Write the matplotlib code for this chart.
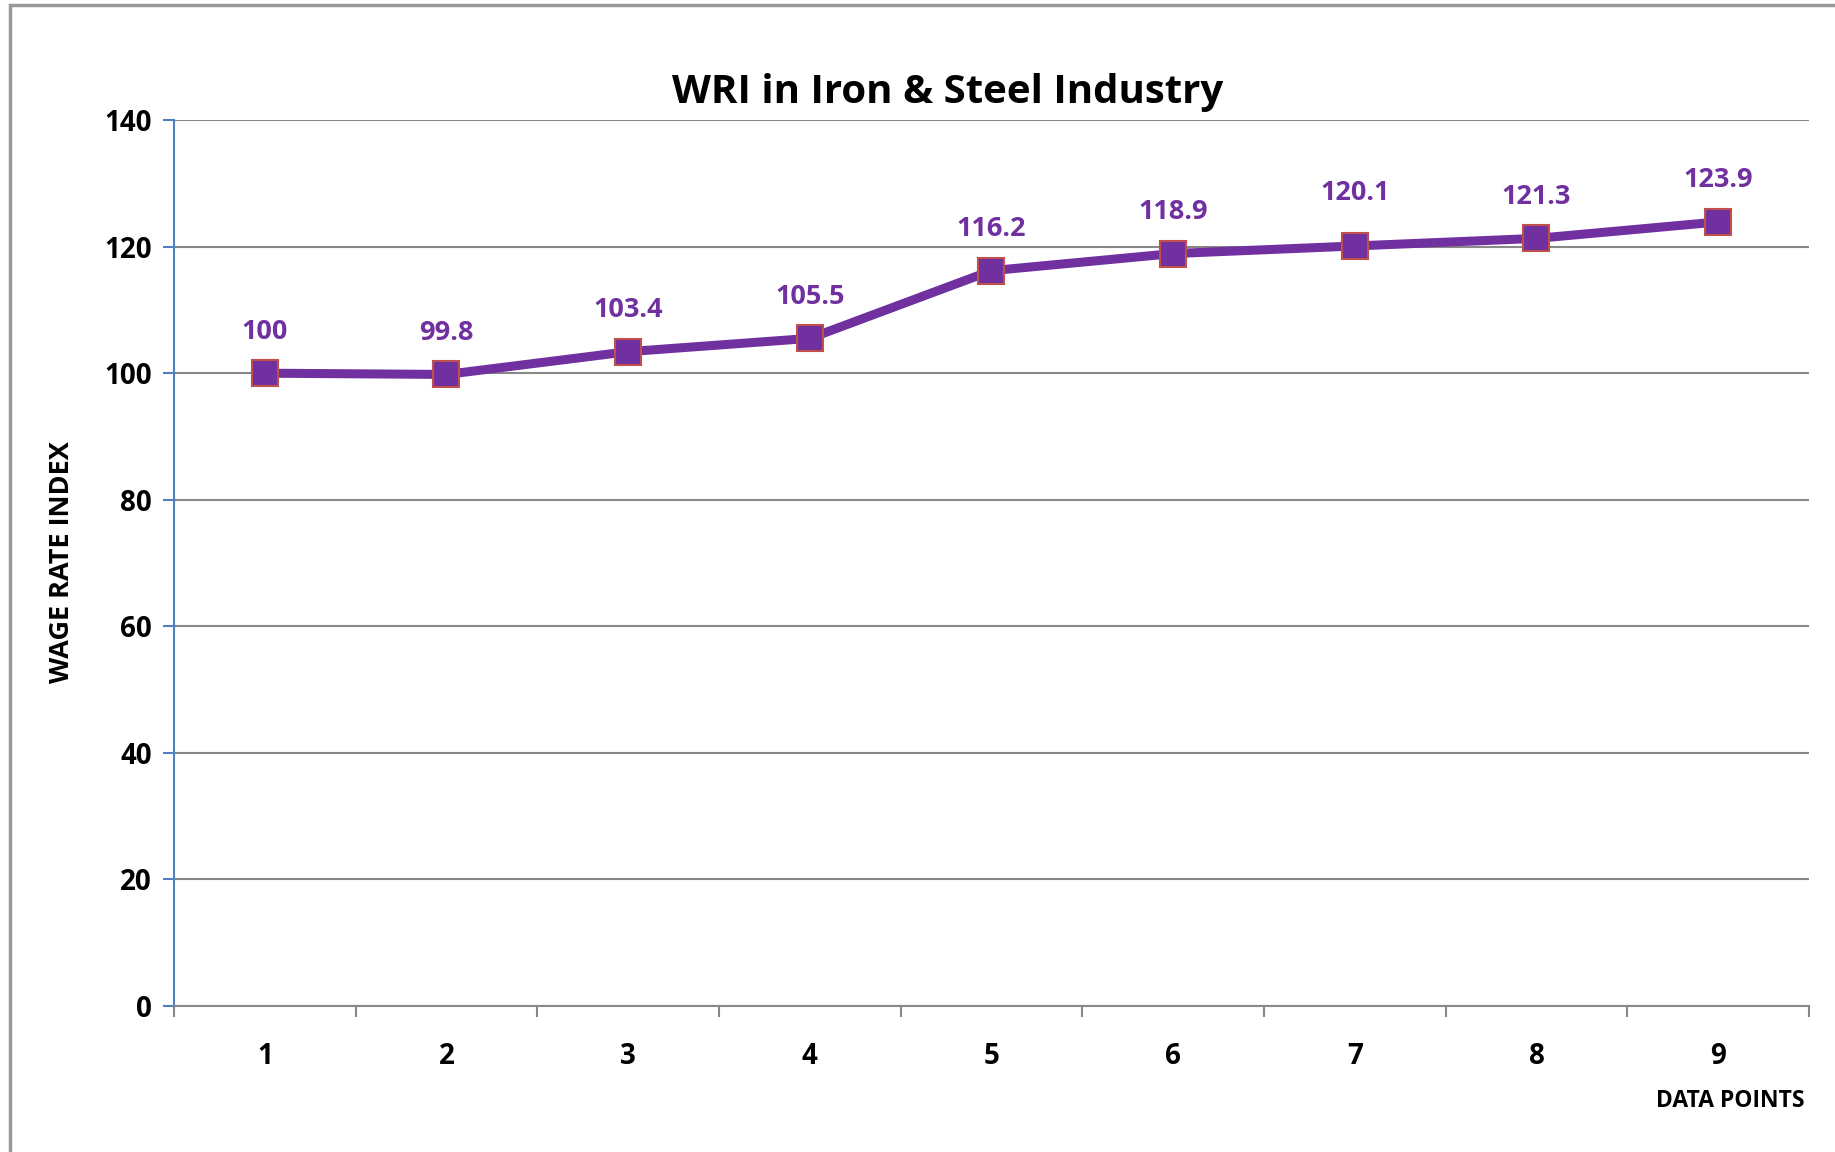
import matplotlib.pyplot as plt
from matplotlib.patches import Rectangle

# WRI values
points = [1, 2, 3, 4, 5, 6, 7, 8, 9]
wri = [100, 99.8, 103.4, 105.5, 116.2, 118.9, 120.1, 121.3, 123.9]
yticks = [0, 20, 40, 60, 80, 100, 120, 140]

purple = "#7030A0"
plt.rcParams['font.family'] = ['Open Sans', 'DejaVu Sans']
plt.rcParams['font.weight'] = 'bold'

fig = plt.figure(figsize=(18.35, 11.52), dpi=100)
ax = fig.add_axes([0.0948, 0.1267, 0.891, 0.7691])

ax.plot(points, wri, color=purple, linewidth=6.5, marker='s', markersize=19,
        markerfacecolor=purple, markeredgecolor="#C0504D", markeredgewidth=1.5,
        zorder=3)
for i, (x, v) in enumerate(zip(points, wri)):
    # the label on point 7 sits a bit higher in the original
    dy = 38 if i == 6 else 30
    ax.annotate(f"{v:g}", (x, v), xytext=(0, dy), textcoords='offset points',
                ha='center', va='center', color=purple, fontsize=19.5,
                fontweight='bold')

ax.set_xlim(0.5, 9.5)
ax.set_ylim(0, 140)
ax.set_yticks(yticks)
ax.set_xticks(points)
ax.set_xticks([p + 0.5 for p in [0] + points], minor=True)
ax.tick_params(axis='x', which='major', length=0, pad=26, labelsize=20)
ax.tick_params(axis='x', which='minor', length=8, width=1.5, color='#888888')
ax.tick_params(axis='y', length=8, width=1.5, color='#4F81BD', pad=8, labelsize=20)
ax.grid(axis='y', color='#888888', linewidth=1.5)
ax.set_axisbelow(True)

for s in ['top', 'right']:
    ax.spines[s].set_visible(False)
ax.spines['left'].set_color('#4F81BD')
ax.spines['left'].set_linewidth(1.5)
ax.spines['bottom'].set_color('#888888')
ax.spines['bottom'].set_linewidth(1.5)

fig.text(0.5166, 0.9195, "WRI in Iron & Steel Industry", ha='center', va='center',
         fontsize=29, fontweight='bold')
fig.text(0.034, 0.512, "WAGE RATE INDEX", rotation=90, ha='center', va='center',
         fontsize=19.5, fontweight='bold')
fig.text(0.9836, 0.0443, "DATA POINTS", ha='right', va='center', fontsize=16.5,
         fontweight='bold')

fig.add_artist(Rectangle((10 / 1835, -0.05), 1.1, 0.05 + 1 - 5 / 1152,
                         transform=fig.transFigure, fill=False,
                         edgecolor='#999999', linewidth=2.5))

plt.savefig('out.png', dpi=100)
